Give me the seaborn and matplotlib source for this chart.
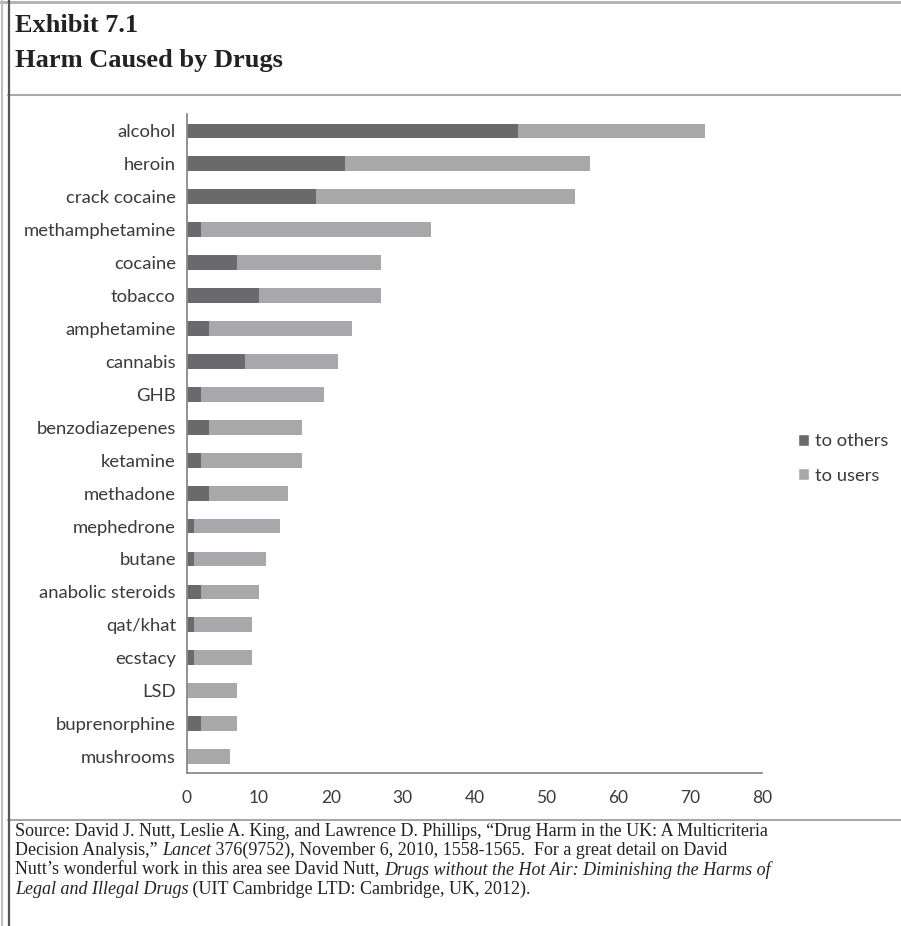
import matplotlib
matplotlib.use("Agg")
import matplotlib.pyplot as plt
import seaborn as sns
import pandas as pd
import numpy as np
from matplotlib.lines import Line2D
from matplotlib.patches import Patch

drugs = ["alcohol", "heroin", "crack cocaine", "methamphetamine", "cocaine", "tobacco",
         "amphetamine", "cannabis", "GHB", "benzodiazepenes", "ketamine", "methadone",
         "mephedrone", "butane", "anabolic steroids", "qat/khat", "ecstacy", "LSD",
         "buprenorphine", "mushrooms"]
to_others = [46, 22, 18, 2, 7, 10, 3, 8, 2, 3, 2, 3, 1, 1, 2, 1, 1, 0, 2, 0]
to_users = [26, 34, 36, 32, 20, 17, 20, 13, 17, 13, 14, 11, 12, 10, 8, 8, 8, 7, 5, 6]
x_ticks = [0, 10, 20, 30, 40, 50, 60, 70, 80]

df = pd.DataFrame({"drug": drugs, "others": to_others, "users": to_users})
df["total"] = df["others"] + df["users"]

sns.set_style("white")
plt.rcParams["font.family"] = ["Lato", "DejaVu Sans"]

DARK = "#6a6a6c"
LIGHT = "#a8a8aa"
AX = "#8a8a8a"
TXT = "#3a3a3a"

fig = plt.figure(figsize=(9.01, 9.26), dpi=100)
ax = fig.add_axes([187/901, 1-773/926, (762-187)/901, (773-114.5)/926])

sns.barplot(data=df, y="drug", x="total", orient="h", color=LIGHT, width=0.45,
            saturation=1, ax=ax, order=drugs, linewidth=0)
sns.barplot(data=df, y="drug", x="others", orient="h", color=DARK, width=0.45,
            saturation=1, ax=ax, order=drugs, linewidth=0)

ax.set_xlim(0, 80)
ax.set_ylim(len(drugs)-0.5, -0.5)
ax.set_xticks(x_ticks)
ax.set_xlabel("")
ax.set_ylabel("")
for s in ["top", "right"]:
    ax.spines[s].set_visible(False)
for s in ["left", "bottom"]:
    ax.spines[s].set_color(AX)
    ax.spines[s].set_linewidth(1.3)
ax.set_yticks(np.arange(-0.5, len(drugs)), minor=True)
ax.tick_params(axis="y", which="major", length=0, pad=8, labelsize=13.3, labelcolor=TXT)
ax.tick_params(axis="y", which="minor", length=5, width=1.3, color=AX, direction="out")
ax.tick_params(axis="x", which="major", length=5, width=1.3, color=AX, direction="out",
               labelsize=12.5, labelcolor=TXT, pad=7)
ax.set_xticklabels([str(t) for t in x_ticks])

handles = [Patch(facecolor=DARK, label="to others"), Patch(facecolor=LIGHT, label="to users")]
fig.legend(handles=handles, loc="upper left", bbox_to_anchor=(791/901, 1-426/926),
           frameon=False, fontsize=13.2, handlelength=0.6, handleheight=0.6,
           handletextpad=0.3, labelspacing=1.0, labelcolor=TXT, borderaxespad=0)

# frame lines
def hline(y, x0=8, x1=901, c="#a0a0a0", lw=1.5):
    fig.add_artist(Line2D([x0/901, x1/901], [1-y/926, 1-y/926], color=c, lw=lw))
hline(1.5, 0, 901, "#b0b0b0", 2)
hline(95, 8, 901, "#a8a8a8", 1.5)
hline(820, 8, 901, "#a8a8a8", 1.5)
fig.add_artist(Line2D([8.5/901, 8.5/901], [0, 1], color="#555555", lw=1.6))
fig.add_artist(Line2D([1.5/901, 1.5/901], [0, 1], color="#c0c0c0", lw=1.5))

# title
serif = ["Liberation Serif", "DejaVu Serif"]
fig.text(15/901, 1-25/926, "Exhibit 7.1", family=serif, weight="bold", fontsize=19,
         va="center", ha="left", color="#222222")
fig.text(15/901, 1-60/926, "Harm Caused by Drugs", family=serif, weight="bold", fontsize=19,
         va="center", ha="left", color="#222222")

# source with mixed italics
lines = [
    [("Source: David J. Nutt, Leslie A. King, and Lawrence D. Phillips, \u201cDrug Harm in the UK: A Multicriteria", "normal")],
    [("Decision Analysis,\u201d ", "normal"), ("Lancet", "italic"),
     (" 376(9752), November 6, 2010, 1558-1565.  For a great detail on David", "normal")],
    [("Nutt\u2019s wonderful work in this area see David Nutt, ", "normal"),
     ("Drugs without the Hot Air: Diminishing the Harms of", "italic")],
    [("Legal and Illegal Drugs", "italic"), (" (UIT Cambridge LTD: Cambridge, UK, 2012).", "normal")],
]
fig.canvas.draw()
renderer = fig.canvas.get_renderer()
y0 = 831
for i, segs in enumerate(lines):
    x = 15
    y = y0 + i * 19.4
    for txt, style in segs:
        t = fig.text(x/901, 1-y/926, txt, family=serif, style=style, fontsize=13.0,
                     va="center", ha="left", color="#222222")
        bb = t.get_window_extent(renderer)
        x += bb.width

fig.savefig("out.png", dpi=100)
